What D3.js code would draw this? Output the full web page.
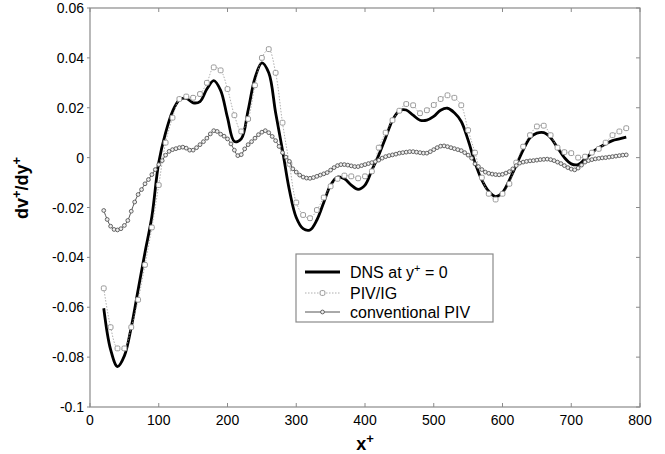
<!DOCTYPE html>
<html>
<head>
<meta charset="utf-8">
<script src="https://cdn.jsdelivr.net/npm/d3@7"></script>
<style>
  body { margin: 0; background: #fff; }
  text { font-family: Arial, "Liberation Sans", sans-serif; }
</style>
</head>
<body>
<div id="chart"></div>
<script>
// x+ positions
var xDns = d3.range(20, 781, 10);      // DNS and PIV/IG sampled every 10
var xConv = d3.range(20, 781, 5);      // conventional PIV every 5

var dnsValues = [
  -0.0604, -0.0770, -0.0838, -0.0795, -0.0680, -0.0530, -0.0380, -0.0236, -0.0020, 0.0100,
  0.0185, 0.0232, 0.0238, 0.0220, 0.0225, 0.0275, 0.0309, 0.0270, 0.0160, 0.0065,
  0.0075, 0.0190, 0.0320, 0.0380, 0.0340, 0.0180, 0.0030, -0.0130, -0.0240, -0.0285,
  -0.0290, -0.0250, -0.0180, -0.0110, -0.0078, -0.0085, -0.0110, -0.0127, -0.0110, -0.0050,
  0.0010, 0.0080, 0.0150, 0.0188, 0.0191, 0.0170, 0.0150, 0.0150, 0.0165, 0.0190,
  0.0198, 0.0180, 0.0145, 0.0070, -0.0020, -0.0090, -0.0135, -0.0156, -0.0140, -0.0090,
  -0.0030, 0.0030, 0.0080, 0.0098, 0.0100, 0.0080, 0.0040, 0.0000, -0.0025, -0.0028,
  -0.0005, 0.0020, 0.0040, 0.0055, 0.0068, 0.0075, 0.0082
];

var pivIgValues = [
  -0.0524, -0.0680, -0.0765, -0.0765, -0.0680, -0.0570, -0.0430, -0.0280, -0.0110, 0.0060,
  0.0160, 0.0235, 0.0245, 0.0240, 0.0255, 0.0300, 0.0362, 0.0350, 0.0275, 0.0170,
  0.0105, 0.0155, 0.0290, 0.0400, 0.0435, 0.0340, 0.0140, -0.0025, -0.0180, -0.0230,
  -0.0243, -0.0210, -0.0160, -0.0115, -0.0085, -0.0072, -0.0075, -0.0083, -0.0075, -0.0055,
  0.0040, 0.0100, 0.0150, 0.0188, 0.0215, 0.0210, 0.0178, 0.0190, 0.0211, 0.0235,
  0.0250, 0.0240, 0.0210, 0.0110, 0.0020, -0.0080, -0.0145, -0.0168, -0.0145, -0.0105,
  -0.0020, 0.0044, 0.0090, 0.0125, 0.0128, 0.0090, 0.0040, 0.0022, 0.0018, 0.0000,
  0.0004, 0.0020, 0.0035, 0.0060, 0.0090, 0.0105, 0.0118
];

var convValues = [
  -0.0212, -0.0248, -0.0275, -0.0288, -0.0290, -0.0285, -0.0272, -0.0252, -0.0215, -0.0178,
  -0.0148, -0.0128, -0.0105, -0.0088, -0.0068, -0.0048, -0.0028, -0.0012, 0.0010, 0.0025,
  0.0032, 0.0036, 0.0040, 0.0042, 0.0038, 0.0030, 0.0030, 0.0040, 0.0052, 0.0064,
  0.0078, 0.0095, 0.0108, 0.0105, 0.0094, 0.0086, 0.0075, 0.0055, 0.0030, 0.0008,
  0.0012, 0.0035, 0.0052, 0.0064, 0.0078, 0.0092, 0.0102, 0.0108, 0.0100, 0.0085,
  0.0068, 0.0045, 0.0020, 0.0002, -0.0015, -0.0045, -0.0058, -0.0070, -0.0078, -0.0082,
  -0.0083, -0.0080, -0.0075, -0.0070, -0.0065, -0.0060, -0.0050, -0.0040, -0.0032, -0.0028,
  -0.0028, -0.0030, -0.0033, -0.0036, -0.0036, -0.0032, -0.0028, -0.0024, -0.0020, -0.0016,
  -0.0010, -0.0002, 0.0004, 0.0008, 0.0011, 0.0014, 0.0018, 0.0020, 0.0022, 0.0024,
  0.0024, 0.0022, 0.0020, 0.0018, 0.0018, 0.0024, 0.0032, 0.0040, 0.0046, 0.0047,
  0.0044, 0.0040, 0.0036, 0.0032, 0.0028, 0.0020, 0.0010, -0.0002, -0.0025, -0.0036,
  -0.0048, -0.0058, -0.0063, -0.0066, -0.0068, -0.0069, -0.0067, -0.0062, -0.0056, -0.0045,
  -0.0032, -0.0022, -0.0018, -0.0015, -0.0013, -0.0012, -0.0010, -0.0008, -0.0007, -0.0006,
  -0.0008, -0.0012, -0.0018, -0.0024, -0.0032, -0.0040, -0.0046, -0.0049, -0.0042, -0.0030,
  -0.0018, -0.0012, -0.0008, -0.0005, -0.0003, -0.0001, 0.0000, 0.0002, 0.0004, 0.0006,
  0.0008, 0.0010, 0.0011
];

var xTicks = [0, 100, 200, 300, 400, 500, 600, 700, 800];
var yTicks = [-0.1, -0.08, -0.06, -0.04, -0.02, 0, 0.02, 0.04, 0.06];
var seriesNames = ["DNS at y+ = 0", "PIV/IG", "conventional PIV"];

var width = 665, height = 454,
    margin = {top: 8, right: 25, bottom: 47, left: 90},
    plotW = width - margin.left - margin.right,
    plotH = height - margin.top - margin.bottom;

var axisColor = "#8a8a8a";

var svg = d3.select("#chart")
    .append("svg")
    .attr("width", width)
    .attr("height", height);

var x = d3.scaleLinear().domain([0, 800]).range([margin.left, margin.left + plotW]);
var y = d3.scaleLinear().domain([-0.1, 0.06]).range([margin.top + plotH, margin.top]);

function fmt(d) {
  return d === 0 ? "0" : d3.format(".2~f")(d).replace("−", "-");
}

// frame
svg.append("rect")
    .attr("x", x(0)).attr("y", y(0.06))
    .attr("width", x(800) - x(0)).attr("height", y(-0.1) - y(0.06))
    .attr("fill", "none").attr("stroke", axisColor).attr("stroke-width", 1.2);

// ticks: bottom/top inward, right inward, left outward
var ticks = svg.append("g").attr("stroke", axisColor).attr("stroke-width", 1);
xTicks.forEach(function (t) {
  ticks.append("line").attr("x1", x(t)).attr("x2", x(t)).attr("y1", y(-0.1)).attr("y2", y(-0.1) - 4);
  ticks.append("line").attr("x1", x(t)).attr("x2", x(t)).attr("y1", y(0.06)).attr("y2", y(0.06) + 4);
});
yTicks.forEach(function (t) {
  ticks.append("line").attr("x1", x(0) - 3).attr("x2", x(0)).attr("y1", y(t)).attr("y2", y(t));
  ticks.append("line").attr("x1", x(800) - 4).attr("x2", x(800)).attr("y1", y(t)).attr("y2", y(t));
});

// tick labels
svg.append("g").selectAll("text")
    .data(xTicks).enter().append("text")
    .attr("x", function (d) { return x(d); })
    .attr("y", y(-0.1) + 18)
    .attr("text-anchor", "middle")
    .style("font-size", "14px")
    .text(function (d) { return d; });

svg.append("g").selectAll("text")
    .data(yTicks).enter().append("text")
    .attr("x", x(0) - 6)
    .attr("y", function (d) { return y(d); })
    .attr("dy", "0.36em")
    .attr("text-anchor", "end")
    .style("font-size", "14px")
    .text(fmt);

// axis titles
var xl = svg.append("text")
    .attr("x", x(400))
    .attr("y", 450)
    .attr("text-anchor", "middle")
    .style("font-size", "18px").style("font-weight", "bold");
xl.append("tspan").text("x");
xl.append("tspan").attr("baseline-shift", "super").style("font-size", "13px").text("+");

var yl = svg.append("text")
    .attr("transform", "translate(28,188) rotate(-90)")
    .attr("text-anchor", "middle")
    .style("font-size", "18px").style("font-weight", "bold");
yl.append("tspan").text("dv");
yl.append("tspan").attr("baseline-shift", "super").style("font-size", "13px").text("+");
yl.append("tspan").text("/dy");
yl.append("tspan").attr("baseline-shift", "super").style("font-size", "13px").text("+");

// data
var dns = xDns.map(function (d, i) { return [d, dnsValues[i]]; });
var pivIg = xDns.map(function (d, i) { return [d, pivIgValues[i]]; });
var conv = xConv.map(function (d, i) { return [d, convValues[i]]; });

var line = d3.line()
    .x(function (d) { return x(d[0]); })
    .y(function (d) { return y(d[1]); })
    .curve(d3.curveCatmullRom);

// DNS
svg.append("path").datum(dns)
    .attr("d", line)
    .attr("fill", "none").attr("stroke", "#000").attr("stroke-width", 2.8);

// PIV/IG
svg.append("path").datum(pivIg)
    .attr("d", line)
    .attr("fill", "none").attr("stroke", "#9a9a9a").attr("stroke-width", 0.8)
    .attr("stroke-dasharray", "1.5,1.5");
svg.append("g").selectAll("rect")
    .data(pivIg).enter().append("rect")
    .attr("x", function (d) { return x(d[0]) - 2.4; })
    .attr("y", function (d) { return y(d[1]) - 2.4; })
    .attr("width", 4.8).attr("height", 4.8).attr("rx", 1.4)
    .attr("fill", "#fff").attr("stroke", "#999").attr("stroke-width", 1);

// conventional PIV
svg.append("path").datum(conv)
    .attr("d", line)
    .attr("fill", "none").attr("stroke", "#555").attr("stroke-width", 1);
svg.append("g").selectAll("circle")
    .data(conv).enter().append("circle")
    .attr("cx", function (d) { return x(d[0]); })
    .attr("cy", function (d) { return y(d[1]); })
    .attr("r", 1.9)
    .attr("fill", "#eee").attr("stroke", "#555").attr("stroke-width", 0.9);

// legend
var lg = svg.append("g").attr("transform", "translate(296,254)");
lg.append("rect").attr("width", 197).attr("height", 68)
    .attr("fill", "#fff").attr("stroke", axisColor).attr("stroke-width", 1.2);

var rows = [18, 39, 58];
lg.append("line").attr("x1", 9).attr("x2", 44).attr("y1", rows[0]).attr("y2", rows[0])
    .attr("stroke", "#000").attr("stroke-width", 2.8);
lg.append("line").attr("x1", 9).attr("x2", 44).attr("y1", rows[1]).attr("y2", rows[1])
    .attr("stroke", "#9a9a9a").attr("stroke-width", 0.8).attr("stroke-dasharray", "1.5,1.5");
lg.append("rect").attr("x", 24.1).attr("y", rows[1] - 2.4).attr("width", 4.8).attr("height", 4.8).attr("rx", 1.4)
    .attr("fill", "#fff").attr("stroke", "#999");
lg.append("line").attr("x1", 9).attr("x2", 44).attr("y1", rows[2]).attr("y2", rows[2])
    .attr("stroke", "#555").attr("stroke-width", 1);
lg.append("circle").attr("cx", 26.5).attr("cy", rows[2]).attr("r", 1.9)
    .attr("fill", "#eee").attr("stroke", "#555").attr("stroke-width", 0.9);

var t0 = lg.append("text").attr("x", 54).attr("y", rows[0]).attr("dy", "0.36em").style("font-size", "16px");
t0.append("tspan").text("DNS at y");
t0.append("tspan").attr("baseline-shift", "super").style("font-size", "11px").text("+");
t0.append("tspan").text(" = 0");
lg.append("text").attr("x", 54).attr("y", rows[1]).attr("dy", "0.36em").style("font-size", "16px").text(seriesNames[1]);
lg.append("text").attr("x", 54).attr("y", rows[2]).attr("dy", "0.36em").style("font-size", "16px").text(seriesNames[2]);
</script>
</body>
</html>
